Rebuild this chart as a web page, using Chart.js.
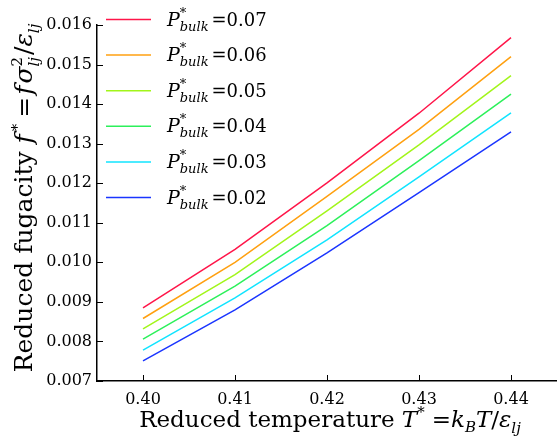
<!DOCTYPE html>
<html lang="en">
<head>
    <meta charset="UTF-8">
    <title>Reduced fugacity vs temperature</title>
    <script src="https://cdn.jsdelivr.net/npm/chart.js"></script>
    <style>
        html, body { margin: 0; padding: 0; background: #fff; }
        .chart-wrapper { width: 557px; height: 436px; position: relative; }
        canvas { width: 100% !important; height: 100% !important; }
    </style>
</head>
<body>
    <div class="chart-wrapper"><canvas id="fugChart"></canvas></div>

    <script>
        // temperatures (x) and one series per bulk pressure
        const temps = [0.40, 0.41, 0.42, 0.43, 0.44];
        const pressures = ["0.07", "0.06", "0.05", "0.04", "0.03", "0.02"];
        const f007 = [0.00885, 0.01033, 0.01201, 0.01377, 0.01568];
        const f006 = [0.00858, 0.01000, 0.01167, 0.01336, 0.01520];
        const f005 = [0.00832, 0.00969, 0.01130, 0.01297, 0.01472];
        const f004 = [0.00806, 0.00940, 0.01093, 0.01257, 0.01425];
        const f003 = [0.00778, 0.00910, 0.01057, 0.01216, 0.01378];
        const f002 = [0.00751, 0.00880, 0.01024, 0.01176, 0.01330];
        const xTicks = [0.40, 0.41, 0.42, 0.43, 0.44];
        const yTicks = [0.007, 0.008, 0.009, 0.010, 0.011, 0.012, 0.013, 0.014, 0.015, 0.016];

        const colors = ['#ff1549', '#ffa010', '#a2f51a', '#2cf05a', '#10e4ff', '#1a35ff'];
        const series = [f007, f006, f005, f004, f003, f002];

        const SERIF = '"DejaVu Serif", serif';

        // draws a list of text pieces (italic / sub / sup) one after another
        function richWidth(ctx, parts) {
            let w = 0;
            parts.forEach(p => {
                if (p.noAdvance) return;
                ctx.font = (p.it ? 'italic ' : '') + p.size + 'px ' + SERIF;
                w += ctx.measureText(p.t).width + (p.gap || 0);
            });
            return w;
        }
        function drawRich(ctx, parts, x, y) {
            ctx.textBaseline = 'alphabetic';
            ctx.textAlign = 'left';
            parts.forEach(p => {
                ctx.font = (p.it ? 'italic ' : '') + p.size + 'px ' + SERIF;
                ctx.fillText(p.t, x, y + (p.dy || 0));
                if (!p.noAdvance) x += ctx.measureText(p.t).width + (p.gap || 0);
            });
        }

        function legendParts(val) {
            return [
                { t: 'P', it: true, size: 19 },
                { t: '*', size: 13, dy: -9, noAdvance: true },
                { t: 'bulk', it: true, size: 13, dy: 5, gap: 3 },
                { t: '=' + val, size: 18 }
            ];
        }

        const xLabel = [
            { t: 'Reduced temperature ', size: 23 },
            { t: 'T', it: true, size: 23 },
            { t: '*', size: 15, dy: -10, gap: 7 },
            { t: '=', size: 23 },
            { t: 'k', it: true, size: 23 },
            { t: 'B', it: true, size: 15, dy: 5 },
            { t: 'T', it: true, size: 23 },
            { t: '/', size: 23 },
            { t: 'ε', it: true, size: 23 },
            { t: 'lj', it: true, size: 15, dy: 6 }
        ];
        const yLabel = [
            { t: 'Reduced fugacity ', size: 25 },
            { t: 'f', it: true, size: 25, gap: 3 },
            { t: '*', size: 15, dy: -10, gap: 6 },
            { t: '=', size: 25, gap: 2 },
            { t: 'f', it: true, size: 25, gap: 2 },
            { t: 'σ', it: true, size: 25 },
            { t: '2', size: 15, dy: -10, noAdvance: true },
            { t: 'lj', it: true, size: 15, dy: 7, gap: 2 },
            { t: '/', size: 25 },
            { t: 'ε', it: true, size: 25 },
            { t: 'lj', it: true, size: 15, dy: 7 }
        ];

        const decorPlugin = {
            id: 'decor',
            afterDraw(chart) {
                const ctx = chart.ctx;
                const xs = chart.scales.x, ys = chart.scales.y;
                const area = chart.chartArea;
                ctx.save();
                ctx.strokeStyle = '#000';
                ctx.lineWidth = 1;
                // inward tick marks
                xTicks.forEach(v => {
                    const px = Math.round(xs.getPixelForValue(v)) + 0.5;
                    ctx.beginPath();
                    ctx.moveTo(px, area.bottom);
                    ctx.lineTo(px, area.bottom - 6);
                    ctx.stroke();
                });
                yTicks.forEach(v => {
                    const py = Math.round(ys.getPixelForValue(v)) + 0.5;
                    ctx.beginPath();
                    ctx.moveTo(area.left, py);
                    ctx.lineTo(area.left + 6, py);
                    ctx.stroke();
                });

                // legend
                ctx.fillStyle = '#000';
                pressures.forEach((p, i) => {
                    const ly = 19.5 + i * 35.6;
                    ctx.strokeStyle = colors[i];
                    ctx.lineWidth = 1.5;
                    ctx.beginPath();
                    ctx.moveTo(106, ly);
                    ctx.lineTo(151, ly);
                    ctx.stroke();
                    drawRich(ctx, legendParts(p), 167, ly + 6);
                });

                // axis titles
                const xw = richWidth(ctx, xLabel);
                drawRich(ctx, xLabel, 330 - xw / 2, 427);

                const yw = richWidth(ctx, yLabel);
                ctx.translate(32, 198);
                ctx.rotate(-Math.PI / 2);
                drawRich(ctx, yLabel, -yw / 2, 0);
                ctx.restore();
            }
        };

        new Chart(document.getElementById('fugChart'), {
            type: 'line',
            data: {
                datasets: series.map((s, i) => ({
                    label: 'P*bulk=' + pressures[i],
                    data: temps.map((t, j) => ({ x: t, y: s[j] })),
                    borderColor: colors[i],
                    backgroundColor: colors[i],
                    borderWidth: 1.5,
                    pointRadius: 0,
                    tension: 0,
                    fill: false
                }))
            },
            options: {
                responsive: true,
                maintainAspectRatio: false,
                animation: false,
                layout: { padding: { top: 25, right: 0, bottom: 0, left: 0 } },
                plugins: {
                    legend: { display: false },
                    tooltip: { enabled: false }
                },
                scales: {
                    x: {
                        type: 'linear',
                        min: 0.395,
                        max: 0.445,
                        afterBuildTicks: s => { s.ticks = xTicks.map(v => ({ value: v })); },
                        afterFit: s => { s.height = 55; },
                        grid: { drawOnChartArea: false, drawTicks: false },
                        border: { color: '#000', width: 1.5 },
                        ticks: {
                            padding: 9,
                            color: '#000',
                            font: { family: SERIF, size: 16 },
                            callback: v => v.toFixed(2)
                        }
                    },
                    y: {
                        min: 0.007,
                        max: 0.016,
                        afterBuildTicks: s => { s.ticks = yTicks.map(v => ({ value: v })); },
                        afterFit: s => { s.width = 97; },
                        grid: { drawOnChartArea: false, drawTicks: false },
                        border: { color: '#000', width: 1.5 },
                        ticks: {
                            padding: 5,
                            color: '#000',
                            font: { family: SERIF, size: 16 },
                            callback: v => v.toFixed(3)
                        }
                    }
                }
            },
            plugins: [decorPlugin]
        });
    </script>
</body>
</html>
